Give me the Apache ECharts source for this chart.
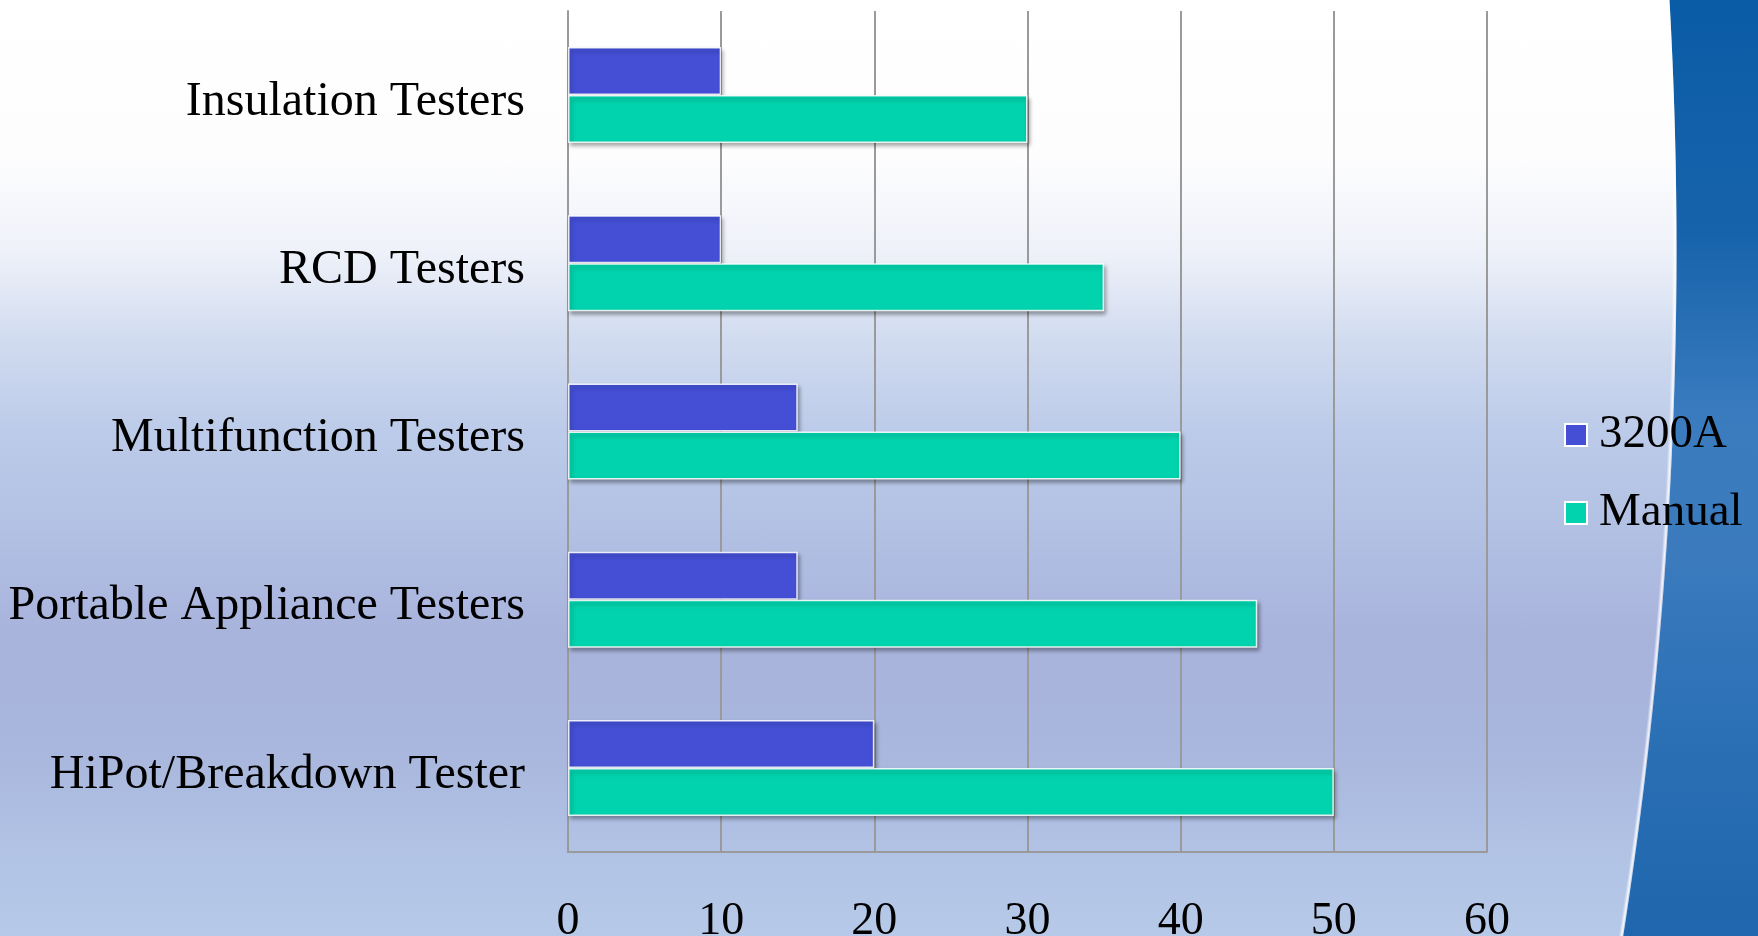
<!DOCTYPE html>
<html>
<head>
<meta charset="utf-8">
<script src="https://cdn.jsdelivr.net/npm/echarts@6/dist/echarts.min.js"></script>
<style>
  html, body { margin: 0; padding: 0; width: 1758px; height: 936px; overflow: hidden; }
  body {
    background: linear-gradient(to bottom,
      #ffffff 0%, #fdfdfe 17%, #eef1f9 27%, #d2dcf0 36%, #bccbe9 46%,
      #b3c1e4 56%, #a8b3dc 68%, #a9b6dd 80%, #b2c4e6 92%, #b6c9e8 100%);
  }
  #edge {
    position: absolute; left: 0; top: 0; width: 1758px; height: 936px;
    background: radial-gradient(circle 4440px at -2764px 250px, rgba(255,255,255,0) 4436px, rgba(255,255,255,0.85) 4439px, rgba(255,255,255,0) 4441px);
  }
  #blue {
    position: absolute; left: 0; top: 0; width: 1758px; height: 936px;
    background: linear-gradient(to bottom, #0a5ca6 0%, #1763ab 25%, #3b7cbf 45%, #3a7abd 60%, #2a6fb4 80%, #1f66ae 100%);
    -webkit-mask-image: radial-gradient(circle 4440px at -2764px 250px, transparent 4440px, #000 4441px);
    mask-image: radial-gradient(circle 4440px at -2764px 250px, transparent 4440px, #000 4441px);
  }
  #chart { position: absolute; left: 0; top: 0; width: 1758px; height: 936px; }
</style>
</head>
<body>
<div id="blue"></div>
<div id="edge"></div>
<div id="chart"></div>
<script>
const categories = ['Insulation Testers', 'RCD Testers', 'Multifunction Testers', 'Portable Appliance Testers', 'HiPot/Breakdown Tester'];
const seriesNames = ['3200A', 'Manual'];
const values3200A = [10, 10, 15, 15, 20];
const valuesManual = [30, 35, 40, 45, 50];
const xTicks = [0, 10, 20, 30, 40, 50, 60];

const chart = echarts.init(document.getElementById('chart'), null, { renderer: 'canvas' });
const fontFamily = '"Liberation Serif", "Times New Roman", serif';
const barStyle = (color) => ({
  color: color,
  borderColor: 'rgba(255,255,255,0.85)',
  borderWidth: 1.5,
  shadowColor: 'rgba(0,0,0,0.35)',
  shadowBlur: 4,
  shadowOffsetX: 2,
  shadowOffsetY: 3
});

chart.setOption({
  backgroundColor: 'transparent',
  animation: false,
  textStyle: { fontFamily: fontFamily },
  grid: { left: 568, right: 271, top: 11, bottom: 84, containLabel: false, outerBoundsMode: 'none' },
  legend: {
    orient: 'vertical',
    left: 1559,
    top: 405,
    icon: 'rect',
    itemWidth: 22,
    itemHeight: 22,
    itemGap: 28,
    data: seriesNames,
    itemStyle: { borderColor: '#ffffff', borderWidth: 2 },
    textStyle: { fontFamily: fontFamily, fontSize: 47, color: '#000', lineHeight: 50, padding: [0, 0, 0, 7] }
  },
  xAxis: {
    type: 'value',
    min: xTicks[0],
    max: xTicks[xTicks.length - 1],
    interval: 10,
    axisLine: { show: true, lineStyle: { color: '#9a9a9a', width: 2 } },
    axisTick: { show: false },
    splitLine: { show: true, lineStyle: { color: '#9a9a9a', width: 2 } },
    axisLabel: { fontFamily: fontFamily, fontSize: 46, color: '#000', margin: 47 }
  },
  yAxis: {
    type: 'category',
    inverse: true,
    data: categories,
    axisLine: { show: true, lineStyle: { color: '#9a9a9a', width: 2 } },
    axisTick: { show: false },
    splitLine: { show: false },
    axisLabel: { fontFamily: fontFamily, fontSize: 48, color: '#000', margin: 43, verticalAlign: 'top', lineHeight: 14 }
  },
  series: [
    { name: seriesNames[0], type: 'bar', data: values3200A, barWidth: 48, barGap: '0%', itemStyle: barStyle('#444fd6') },
    { name: seriesNames[1], type: 'bar', data: valuesManual, barWidth: 48, barGap: '0%', itemStyle: barStyle('#00d3ad') }
  ]
});
</script>
</body>
</html>
